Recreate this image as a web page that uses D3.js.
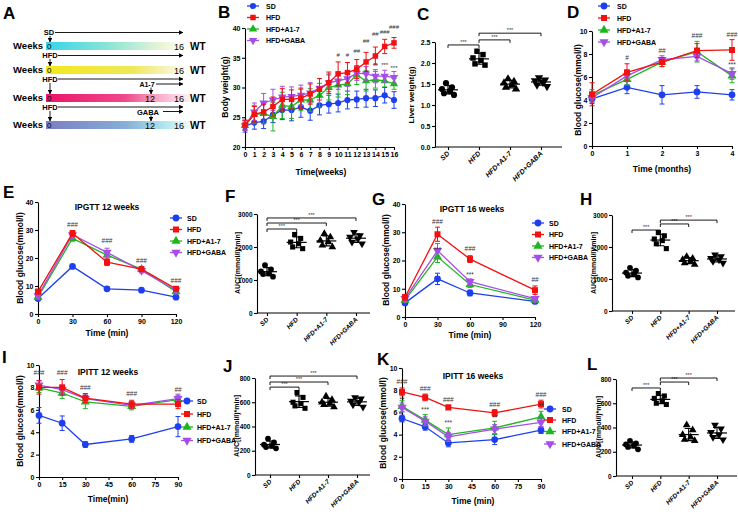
<!DOCTYPE html>
<html><head><meta charset="utf-8">
<script src="https://cdn.jsdelivr.net/npm/d3@7"></script>
<style>body{margin:0;background:#fff}svg{display:block}</style>
</head><body><svg id="c" width="738" height="514"></svg>
<script>
// ---------------- DATA ----------------
const groups = ["SD","HFD","HFD+A1-7","HFD+GABA"];
const lineOrder = ["SD","HFD+A1-7","HFD+GABA","HFD"];

// Panel B: body weight (g) by week
const bWeeks = [0,1,2,3,4,5,6,7,8,9,10,11,12,13,14,15,16];
const bSD   = [23.5,24.1,24.3,25.4,26.2,26.2,26.7,26.1,27.0,27.2,27.4,27.9,28.0,28.2,28.2,28.7,27.9];
const bHFD  = [23.7,25.5,25.9,26.8,28.0,28.0,28.2,28.9,29.7,30.8,32.3,32.5,33.1,34.3,35.3,36.9,37.5];
const bA17  = [23.6,25.5,25.6,25.1,27.0,26.8,27.9,27.9,28.7,30.0,30.4,30.6,32.1,31.1,31.3,31.1,30.6];
const bGABA = [23.6,25.9,27.4,27.9,28.4,28.5,28.7,29.1,29.9,30.8,31.1,31.5,32.4,32.3,31.9,31.9,31.7];
const bErrSD   = [1.0,1.1,1.2,1.3,1.6,1.8,1.7,1.6,1.6,1.5,1.5,1.5,1.4,1.5,1.4,1.3,1.4];
const bErrHFD  = [0.8,1.3,1.3,1.6,1.8,1.6,1.7,1.7,1.8,1.8,2.0,1.7,1.6,1.6,1.5,1.2,0.9];
const bErrA17  = [0.8,1.5,1.6,2.4,2.2,2.0,1.8,1.9,2.0,2.1,2.0,1.8,1.6,1.7,1.4,1.0,0.9];
const bErrGABA = [0.8,1.5,1.6,1.8,1.8,1.6,1.7,1.7,1.6,1.5,1.4,1.3,1.2,1.2,1.1,1.0,1.0];
const bMarks = [[10,35.1,"#"],[11,35.1,"#"],[12,35.8,"##"],[13,37.4,"##"],[14,38.6,"##"],[15,39.0,"###"],[16,39.8,"###"],
                [13,32.3,"*"],[14,33.5,"**"],[15,33.5,"***"],[16,32.9,"***"]];

// Panel C: liver weight (g)
const cSD   = [1.52,1.42,1.38,1.33,1.28,1.24];
const cHFD  = [2.28,2.20,2.12,2.06,1.98,1.95];
const cA17  = [1.62,1.56,1.52,1.48,1.42,1.38];
const cGABA = [1.65,1.60,1.58,1.54,1.48,1.44];
const cBrackets = [["SD","HFD",2.43],["HFD","HFD+A1-7",2.55],["HFD","HFD+GABA",2.71]];

// Panel D: blood glucose by month
const dMonths = [0,1,2,3,4];
const dSD   = [4.1,5.1,4.45,4.7,4.45];   const dErrSD   = [0.4,0.55,0.8,0.55,0.45];
const dHFD  = [4.5,6.4,7.3,8.3,8.35];    const dErrHFD  = [1.0,0.75,0.4,0.6,0.9];
const dA17  = [4.4,5.8,7.3,8.2,6.1];     const dErrA17  = [0.5,0.5,0.4,0.9,0.6];
const dGABA = [4.2,6.1,7.5,7.8,6.3];     const dErrGABA = [0.4,0.5,0.35,0.4,0.5];
const dMarks = [[1,7.5,"#"],[2,8.1,"##"],[3,9.4,"###"],[4,9.5,"###"],[4,6.9,"***"]];

// Panel E: IPGTT 12 weeks
const eTimes = [0,30,60,90,120];
const eSD   = [5.5,17.0,9.0,8.5,6.0];    const eErrSD   = [0.5,0.6,0.5,0.5,0.5];
const eHFD  = [8.0,28.8,18.5,16.0,9.0];  const eErrHFD  = [0.8,1.0,1.2,0.8,0.6];
const eA17  = [6.0,27.0,21.0,16.0,8.0];  const eErrA17  = [0.6,1.0,1.5,0.8,0.6];
const eGABA = [6.5,28.3,22.0,15.5,8.5];  const eErrGABA = [0.6,1.0,1.5,0.8,0.6];
const eMarks = [[30,31.2,"###"],[60,25.2,"###"],[90,18.3,"###"],[120,11.2,"###"]];

// Panel F: IPGTT 12 weeks AUC
const fSD   = [1450,1320,1260,1200,1180,1100];
const fHFD  = [2380,2260,2150,2100,2000,1950];
const fA17  = [2400,2300,2200,2150,2050,2000];
const fGABA = [2450,2350,2300,2250,2150,2100];
const fBrackets = [["SD","HFD",2545],["SD","HFD+A1-7",2727],["SD","HFD+GABA",2880]];

// Panel G: IPGTT 16 weeks
const gTimes = [0,30,60,120];
const gSD   = [5.0,13.5,8.5,5.5];    const gErrSD   = [0.6,2.0,1.0,0.6];
const gHFD  = [7.0,29.3,20.5,9.5];   const gErrHFD  = [1.0,2.5,1.2,1.5];
const gA17  = [6.0,21.3,11.5,6.0];   const gErrA17  = [0.8,2.0,1.0,0.6];
const gGABA = [6.5,23.5,12.5,6.5];   const gErrGABA = [0.8,2.5,1.0,0.6];
const gMarks = [[30,33.0,"###"],[30,23.0,"***"],[60,23.2,"###"],[60,14.2,"***"],[120,12.3,"##"]];

// Panel H: IPGTT 16 weeks AUC
const hSD   = [1350,1260,1200,1150,1100,1050];
const hHFD  = [2450,2350,2250,2200,2100,1950];
const hA17  = [1700,1640,1600,1550,1500,1450];
const hGABA = [1760,1700,1650,1600,1550,1500];
const hBrackets = [["SD","HFD",2530],["HFD","HFD+A1-7",2720],["HFD","HFD+GABA",2840]];

// Panel I: IPITT 12 weeks
const iTimes = [0,15,30,60,90];
const iSD   = [5.5,4.8,2.9,3.4,4.5];     const iErrSD   = [0.7,0.65,0.25,0.3,0.9];
const iHFD  = [8.0,8.0,7.05,6.5,6.5];    const iErrHFD  = [0.6,0.7,0.4,0.35,0.4];
const iA17  = [7.95,7.5,6.7,6.3,6.9];    const iErrA17  = [0.4,0.5,0.6,0.3,0.4];
const iGABA = [8.2,7.8,7.0,6.4,7.0];     const iErrGABA = [0.4,0.4,0.4,0.3,0.4];
const iMarks = [[0,9.1,"###"],[15,9.1,"###"],[30,7.8,"###"],[60,7.2,"###"],[90,7.6,"##"]];

// Panel J: IPITT 12 weeks AUC
const jSD   = [300,270,250,240,230,220];
const jHFD  = [680,640,600,590,570,550];
const jA17  = [650,620,600,590,580,560];
const jGABA = [640,630,610,600,580,560];
const jBrackets = [["SD","HFD",725],["SD","HFD+A1-7",767],["SD","HFD+GABA",816]];

// Panel K: IPITT 16 weeks
const kTimes = [0,15,30,60,90];
const kSD   = [5.45,4.7,3.25,3.55,4.4];  const kErrSD   = [0.3,0.3,0.35,0.45,0.3];
const kHFD  = [7.85,7.35,6.45,5.95,6.75];const kErrHFD  = [0.35,0.3,0.2,0.3,0.35];
const kA17  = [6.55,5.3,4.0,4.6,5.6];    const kErrA17  = [0.5,0.5,0.6,0.6,0.5];
const kGABA = [6.45,5.2,3.8,4.5,5.1];    const kErrGABA = [0.4,0.4,0.4,0.4,0.4];
const kMarks = [[0,8.6,"###"],[0,6.9,"**"],[15,7.9,"###"],[15,6.0,"***"],[30,6.9,"###"],[30,4.9,"***"],
                [60,6.5,"###"],[60,5.3,"**"],[90,7.4,"###"],[90,6.4,"**"]];

// Panel L: IPITT 16 weeks AUC
const lSD   = [290,270,260,250,240,220];
const lHFD  = [680,660,640,620,600,590];
const lA17  = [420,380,340,320,300,290];
const lGABA = [420,390,360,340,320,300];
const lBrackets = [["SD","HFD",726],["HFD","HFD+A1-7",775],["HFD","HFD+GABA",808]];

// ---------------- STYLE ----------------
const colors = {"SD":"#1e3ff0","HFD":"#f21010","HFD+A1-7":"#1fb51f","HFD+GABA":"#a64ee8"};
const FONT = "'Liberation Sans', Arial, Helvetica, sans-serif";
const svg = d3.select("#c").attr("font-family", FONT).attr("font-weight","bold");

function txt(x,y,s,o={}) {
  const t = svg.append("text").attr("x",x).attr("y",y).text(s)
    .attr("font-size",o.fs||8).attr("text-anchor",o.anchor||"start")
    .attr("font-weight",o.fw||"bold").attr("fill",o.fill||"#000");
  if (o.rot) t.attr("transform",`rotate(${o.rot},${x},${y})`);
  return t;
}
function marker(g,k,x,y,size,fill) {
  const type = {"SD":d3.symbolCircle,"HFD":d3.symbolSquare,"HFD+A1-7":d3.symbolTriangle,"HFD+GABA":d3.symbolTriangle}[k];
  g.append("path").attr("d",d3.symbol(type,size)())
    .attr("transform",`translate(${x},${y})`+(k==="HFD+GABA"?" rotate(180)":""))
    .attr("fill",fill||colors[k]);
}
function styleAxis(a,fs){
  a.attr("font-family",FONT).attr("font-size",fs).attr("font-weight","bold");
  a.selectAll("path,line").attr("stroke","#000").attr("stroke-width",1.1);
  a.selectAll("text").attr("fill","#000");
}

function linePanel(o){
  const g = svg.append("g");
  const x = d3.scaleLinear().domain(o.xd).range(o.xr);
  const y = d3.scaleLinear().domain(o.yd).range(o.yr);
  const ax = g.append("g").attr("transform",`translate(0,${o.yr[0]})`)
    .call(d3.axisBottom(x).tickValues(o.xt).tickSizeInner(3).tickSizeOuter(0).tickPadding(2).tickFormat(d3.format("d")));
  const ay = g.append("g").attr("transform",`translate(${o.xr[0]},0)`)
    .call(d3.axisLeft(y).tickValues(o.yt).tickSizeInner(3).tickSizeOuter(0).tickPadding(1.5).tickFormat(d3.format("d")));
  styleAxis(ax,o.fs||7); styleAxis(ay,o.fs||7);
  lineOrder.forEach(k=>{
    const s = o.series[k], c = colors[k];
    o.xs.forEach((xv,i)=>{
      const X=x(xv), yl=y(s.v[i]-s.e[i]), yh=y(s.v[i]+s.e[i]);
      g.append("path").attr("d",`M${X},${yl}V${yh}M${X-2.5},${yl}H${X+2.5}M${X-2.5},${yh}H${X+2.5}`)
        .attr("stroke",c).attr("stroke-width",1).attr("fill","none");
    });
    g.append("path").datum(o.xs.map((xv,i)=>[xv,s.v[i]]))
      .attr("d",d3.line().x(d=>x(d[0])).y(d=>y(d[1])))
      .attr("stroke",c).attr("stroke-width",1.3).attr("fill","none");
    o.xs.forEach((xv,i)=>marker(g,k,x(xv),y(s.v[i]),o.ms||36));
  });
  o.ann.forEach(a=>g.append("text").attr("x",x(a[0])).attr("y",y(a[1])).text(a[2])
    .attr("text-anchor","middle").attr("font-size",o.afs||6.5).attr("font-weight","normal").attr("fill","#333"));
  if (o.legend){
    const L=o.legend;
    groups.forEach((k,i)=>{
      const yy=L.ys[i];
      g.append("line").attr("x1",L.mx-6).attr("x2",L.mx+6).attr("y1",yy).attr("y2",yy).attr("stroke",colors[k]).attr("stroke-width",1.3);
      marker(g,k,L.mx,yy,o.ms||36);
      g.append("text").attr("x",L.tx).attr("y",yy+2.5).text(k).attr("font-size",L.fs||7).attr("fill","#000");
    });
  }
  if (o.title) txt(o.title[0],o.title[1],o.title[2],{fs:8.5,anchor:"middle"});
  txt(o.xl[0],o.xl[1],o.xl[2],{fs:o.lfs||8.5,anchor:"middle"});
  txt(o.yl[0],o.yl[1],o.yl[2],{fs:o.lfs||8.5,anchor:"middle",rot:-90});
}

function jit(i){ return (i%2?1:-1)*(2+(i%3)*2); }

function scatterPanel(o){
  const g = svg.append("g");
  const x = d3.scalePoint().domain(groups).range(o.cr);
  const y = d3.scaleLinear().domain(o.yd).range(o.yr);
  const ay = g.append("g").attr("transform",`translate(${o.x0},0)`)
    .call(d3.axisLeft(y).tickValues(o.yt).tickSizeInner(3).tickSizeOuter(0).tickPadding(1.5).tickFormat(o.tf||d3.format("d")));
  const ax = g.append("g").attr("transform",`translate(0,${o.yr[0]})`)
    .call(d3.axisBottom(x).tickSizeInner(3).tickSizeOuter(0).tickFormat(""));
  ax.select(".domain").remove();
  styleAxis(ay,o.fs||6.5); styleAxis(ax,6);
  g.append("line").attr("x1",o.x0).attr("x2",o.x1).attr("y1",o.yr[0]).attr("y2",o.yr[0]).attr("stroke","#000").attr("stroke-width",1.1);
  groups.forEach(k=>g.append("text").attr("transform",`translate(${x(k)+2},${o.yr[0]+7}) rotate(-45)`)
    .attr("text-anchor","end").attr("font-size",o.cfs||6.5).attr("font-style","italic").text(k));
  groups.forEach(k=>{
    const vals=o.data[k], cx=x(k), m=d3.mean(vals), sd=d3.deviation(vals);
    vals.forEach((v,i)=>marker(g,k,cx+jit(i),y(v),o.ms||26,"#000"));
    g.append("line").attr("x1",cx-10).attr("x2",cx+10).attr("y1",y(m)).attr("y2",y(m)).attr("stroke","#000").attr("stroke-width",1.2);
    g.append("path").attr("d",`M${cx},${y(m-sd)}V${y(m+sd)}M${cx-4},${y(m-sd)}H${cx+4}M${cx-4},${y(m+sd)}H${cx+4}`)
      .attr("stroke","#000").attr("stroke-width",1.1).attr("fill","none");
  });
  o.br.forEach(b=>{
    const x1=x(b[0]), x2=x(b[1]), yy=y(b[2]);
    g.append("path").attr("d",`M${x1},${yy+3}V${yy}H${x2}V${yy+3}`).attr("stroke","#000").attr("stroke-width",0.9).attr("fill","none");
    g.append("text").attr("x",(x1+x2)/2).attr("y",yy-1).text("***").attr("text-anchor","middle")
      .attr("font-size",5.5).attr("font-weight","normal").attr("fill","#333");
  });
  txt(o.yl[0],o.yl[1],o.yl[2],{fs:o.lfs||7,anchor:"middle",rot:-90});
}

// ---------------- PANEL A ----------------
(function(){
  const defs = svg.append("defs");
  const grads = {
    g1:[["0%","#37d4ea"],["45%","#8fe5d6"],["80%","#e9f5d4"],["100%","#ffffff"]],
    g2:[["0%","#f3e81c"],["60%","#efe858"],["85%","#f6f3c4"],["100%","#ffffff"]],
    g3:[["0%","#ea1568"],["55%","#ee4a8b"],["78%","#f7aac8"],["100%","#fff2f7"]],
    g4:[["0%","#7a7fc4"],["55%","#86aed6"],["82%","#ade5ef"],["100%","#eefcfd"]]
  };
  Object.entries(grads).forEach(([id,st])=>{
    const lg=defs.append("linearGradient").attr("id",id);
    st.forEach(s=>lg.append("stop").attr("offset",s[0]).attr("stop-color",s[1]));
  });
  defs.append("marker").attr("id","arr").attr("viewBox","0 0 10 10").attr("refX",9).attr("refY",5)
    .attr("markerWidth",5).attr("markerHeight",5).attr("orient","auto")
    .append("path").attr("d","M0,0L10,5L0,10z").attr("fill","#000");
  const arrow=(x1,y1,x2,y2)=>svg.append("line").attr("x1",x1).attr("y1",y1).attr("x2",x2).attr("y2",y2)
    .attr("stroke","#000").attr("stroke-width",0.9).attr("marker-end","url(#arr)");
  txt(3,19,"A",{fs:17});
  const rows=[{y:42,g:"g1",mid:null},{y:66,g:"g2",mid:null},{y:94,g:"g3",mid:"12"},{y:121,g:"g4",mid:"12"}];
  rows.forEach(r=>{
    svg.append("rect").attr("x",46).attr("y",r.y).attr("width",144).attr("height",8).attr("fill",`url(#${r.g})`);
    txt(43,r.y+7,"Weeks",{fs:9.5,anchor:"end"});
    txt(47,r.y+7,"0",{fs:8,fw:"normal"});
    if(r.mid) txt(150,r.y+7.5,r.mid,{fs:9,fw:"normal",anchor:"middle"});
    txt(179,r.y+7.5,"16",{fs:9,fw:"normal",anchor:"middle"});
    txt(190,r.y+7.5,"WT",{fs:10});
  });
  txt(49,35,"SD",{fs:7.5,anchor:"middle"}); arrow(55,32.5,183,32.5); arrow(50,36,50,42);
  txt(50,58,"HFD",{fs:7.5,anchor:"middle"}); arrow(58,55.5,183,55.5); arrow(50,59,50,66);
  txt(50,82,"HFD",{fs:7.5,anchor:"middle"}); arrow(58,79,183,79); arrow(50,83,50,94);
  txt(147,86.5,"A1-7",{fs:7,anchor:"middle"}); arrow(156,84,183,84); arrow(151,87.5,151,94);
  txt(50,110,"HFD",{fs:7.5,anchor:"middle"}); arrow(58,107,183,107); arrow(50,111,50,121);
  txt(148,114.5,"GABA",{fs:7.5,anchor:"middle"}); arrow(163,111.5,183,111.5); arrow(151,115.5,151,121);
})();

// ---------------- LINE PANELS ----------------
txt(218,18,"B",{fs:17});
linePanel({xd:[0,16],xr:[245,394],yd:[20,40],yr:[147,28],xt:bWeeks,yt:[20,25,30,35,40],xs:bWeeks,ms:30,
  series:{"SD":{v:bSD,e:bErrSD},"HFD":{v:bHFD,e:bErrHFD},"HFD+A1-7":{v:bA17,e:bErrA17},"HFD+GABA":{v:bGABA,e:bErrGABA}},
  ann:bMarks,afs:6,legend:{mx:253,tx:266,ys:[6,17.5,29,40.5]},
  xl:[321,175,"Time(weeks)"],yl:[228,87,"Body weight(g)"]});

txt(567,18,"D",{fs:17});
linePanel({xd:[0,4],xr:[592,732],yd:[0,10],yr:[146,31],xt:dMonths,yt:[0,2,4,6,8,10],xs:dMonths,
  series:{"SD":{v:dSD,e:dErrSD},"HFD":{v:dHFD,e:dErrHFD},"HFD+A1-7":{v:dA17,e:dErrA17},"HFD+GABA":{v:dGABA,e:dErrGABA}},
  ann:dMarks,legend:{mx:604,tx:617,ys:[6,18,30,42]},
  xl:[662,172,"Time (months)"],yl:[581,90,"Blood glucose(mmol/l)"]});

txt(3,198,"E",{fs:17});
linePanel({xd:[0,120],xr:[38,176],yd:[0,40],yr:[314,202],xt:eTimes,yt:[0,10,20,30,40],xs:eTimes,
  series:{"SD":{v:eSD,e:eErrSD},"HFD":{v:eHFD,e:eErrHFD},"HFD+A1-7":{v:eA17,e:eErrA17},"HFD+GABA":{v:eGABA,e:eErrGABA}},
  ann:eMarks,legend:{mx:176,tx:187,ys:[218,229.5,241,252.5]},
  title:[107,210,"IPGTT 12 weeks"],xl:[107,336,"Time (min)"],yl:[23,258,"Blood glucose(mmol/l)"]});

txt(372,205,"G",{fs:17});
linePanel({xd:[0,120],xr:[405,535],yd:[0,40],yr:[317,204],xt:[0,30,60,90,120],yt:[0,10,20,30,40],xs:gTimes,
  series:{"SD":{v:gSD,e:gErrSD},"HFD":{v:gHFD,e:gErrHFD},"HFD+A1-7":{v:gA17,e:gErrA17},"HFD+GABA":{v:gGABA,e:gErrGABA}},
  ann:gMarks,legend:{mx:538,tx:549,ys:[223,234.5,246,257.5]},
  title:[472,212,"IPGTT 16 weeks"],xl:[470,338,"Time (min)"],yl:[389,260,"Blood glucose(mmol/l)"]});

txt(2,363,"I",{fs:17});
linePanel({xd:[0,90],xr:[39,178],yd:[0,10],yr:[477,365],xt:[0,15,30,45,60,75,90],yt:[0,2,4,6,8,10],xs:iTimes,
  series:{"SD":{v:iSD,e:iErrSD},"HFD":{v:iHFD,e:iErrHFD},"HFD+A1-7":{v:iA17,e:iErrA17},"HFD+GABA":{v:iGABA,e:iErrGABA}},
  ann:iMarks,legend:{mx:187,tx:197,ys:[401,414,427,440.5]},
  title:[108,375,"IPITT 12 weeks"],xl:[108,502,"Time(min)"],yl:[23,421,"Blood glucose(mmol/l)"]});

txt(377,365,"K",{fs:17});
linePanel({xd:[0,90],xr:[402,541],yd:[0,10],yr:[479,368],xt:[0,15,30,45,60,75,90],yt:[0,2,4,6,8,10],xs:kTimes,
  series:{"SD":{v:kSD,e:kErrSD},"HFD":{v:kHFD,e:kErrHFD},"HFD+A1-7":{v:kA17,e:kErrA17},"HFD+GABA":{v:kGABA,e:kErrGABA}},
  ann:kMarks,legend:{mx:550,tx:562,ys:[409,420,431.5,444]},
  title:[473,379,"IPITT 16 weeks"],xl:[473,504,"Time (min)"],yl:[386,423,"Blood glucose(mmol/l)"]});

// ---------------- SCATTER PANELS ----------------
txt(417,20,"C",{fs:17});
scatterPanel({x0:435,x1:562,cr:[448,541],yd:[0,2.5],yr:[147,42],yt:[0,0.5,1,1.5,2,2.5],tf:d3.format(".1f"),fs:7,cfs:7,ms:30,
  data:{"SD":cSD,"HFD":cHFD,"HFD+A1-7":cA17,"HFD+GABA":cGABA},br:cBrackets,yl:[414,95,"Liver weight(g)"],lfs:8});

txt(225,202,"F",{fs:17});
scatterPanel({x0:257,x1:370,cr:[267,356],yd:[0,3000],yr:[313,214],yt:[0,1000,2000,3000],
  data:{"SD":fSD,"HFD":fHFD,"HFD+A1-7":fA17,"HFD+GABA":fGABA},br:fBrackets,yl:[240,263,"AUC[(mmol/l)*min]"]});

txt(580,205,"H",{fs:17});
scatterPanel({x0:612,x1:735,cr:[632,717],yd:[0,3000],yr:[311,215],yt:[0,1000,2000,3000],
  data:{"SD":hSD,"HFD":hHFD,"HFD+A1-7":hA17,"HFD+GABA":hGABA},br:hBrackets,yl:[596,263,"AUC[(mmol/l)*min]"]});

txt(223,372,"J",{fs:17});
scatterPanel({x0:255,x1:370,cr:[270,357],yd:[0,800],yr:[475,378],yt:[0,200,400,600,800],
  data:{"SD":jSD,"HFD":jHFD,"HFD+A1-7":jA17,"HFD+GABA":jGABA},br:jBrackets,yl:[239,426,"AUC[(mmol/l)*min]"]});

txt(587,370,"L",{fs:17});
scatterPanel({x0:616,x1:737,cr:[632,717],yd:[0,800],yr:[476,379],yt:[0,200,400,600,800],
  data:{"SD":lSD,"HFD":lHFD,"HFD+A1-7":lA17,"HFD+GABA":lGABA},br:lBrackets,yl:[601,427,"AUC[(mmol/l)*min]"]});
</script></body></html>
